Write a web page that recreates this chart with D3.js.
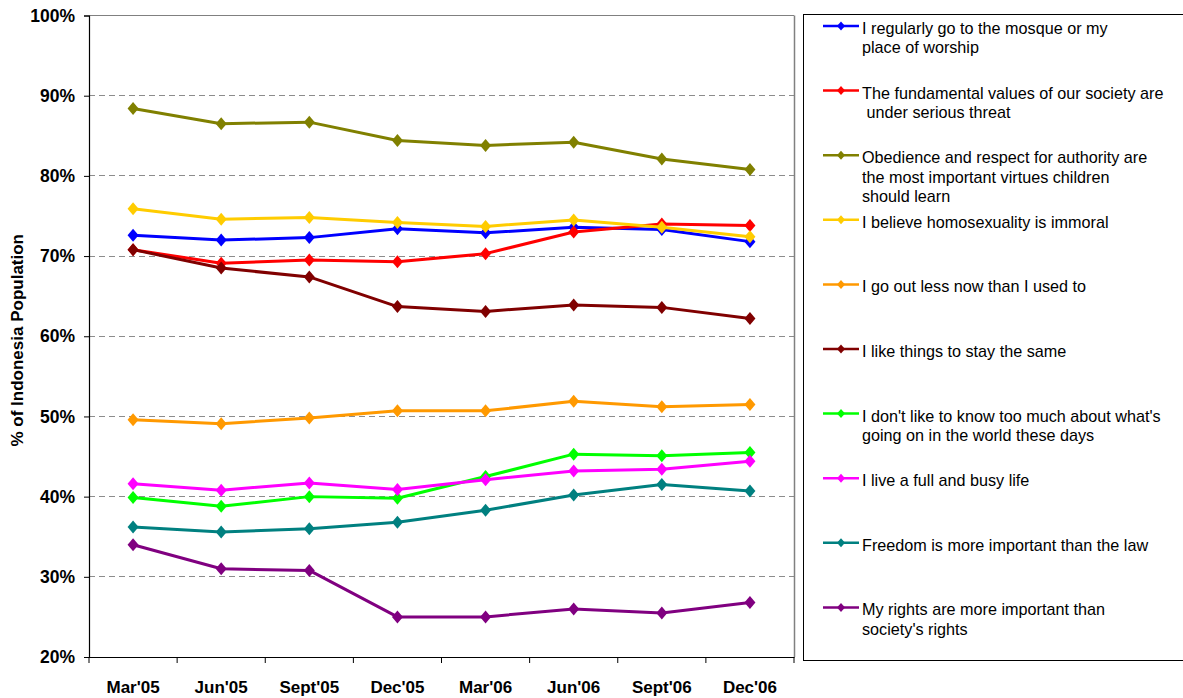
<!DOCTYPE html>
<html>
<head>
<meta charset="utf-8">
<script src="https://cdn.jsdelivr.net/npm/d3@7"></script>
<style>
  html, body { margin: 0; padding: 0; background: #fff; }
  svg { display: block; font-family: "Liberation Sans", Arial, sans-serif; }
</style>
</head>
<body>
<svg id="chart" width="1183" height="698"></svg>
<script>
const categories = ["Mar'05", "Jun'05", "Sept'05", "Dec'05", "Mar'06", "Jun'06", "Sept'06", "Dec'06"];
const yTicks = [0.2, 0.3, 0.4, 0.5, 0.6, 0.7, 0.8, 0.9, 1.0];

const seriesNames = [
  ["I regularly go to the mosque or my", "place of worship"],
  ["The fundamental values of our society are", " under serious threat"],
  ["Obedience and respect for authority are", "the most important virtues children", "should learn"],
  ["I believe homosexuality is immoral"],
  ["I go out less now than I used to"],
  ["I like things to stay the same"],
  ["I don't like to know too much about what's", "going on in the world these days"],
  ["I live a full and busy life"],
  ["Freedom is more important than the law"],
  ["My rights are more important than", "society's rights"]
];
const seriesColors = ["#0000FF", "#FF0000", "#808000", "#FFCC00", "#FF9900", "#800000", "#00FF00", "#FF00FF", "#008080", "#800080"];

const mosque      = [0.726, 0.720, 0.723, 0.734, 0.729, 0.736, 0.733, 0.718];
const threat      = [0.708, 0.691, 0.695, 0.693, 0.703, 0.730, 0.740, 0.738];
const obedience   = [0.884, 0.865, 0.867, 0.844, 0.838, 0.842, 0.821, 0.808];
const homosexual  = [0.759, 0.746, 0.748, 0.742, 0.737, 0.745, 0.736, 0.724];
const goOut       = [0.496, 0.491, 0.498, 0.507, 0.507, 0.519, 0.512, 0.515];
const sameThings  = [0.708, 0.685, 0.674, 0.637, 0.631, 0.639, 0.636, 0.622];
const dontKnow    = [0.399, 0.388, 0.400, 0.398, 0.425, 0.453, 0.451, 0.455];
const busyLife    = [0.416, 0.408, 0.417, 0.409, 0.421, 0.432, 0.434, 0.444];
const freedom     = [0.362, 0.356, 0.360, 0.368, 0.383, 0.402, 0.415, 0.407];
const myRights    = [0.340, 0.310, 0.308, 0.250, 0.250, 0.260, 0.255, 0.268];

const seriesValues = [mosque, threat, obedience, homosexual, goOut, sameThings, dontKnow, busyLife, freedom, myRights];

const svg = d3.select("#chart");
const plot = { left: 89, right: 794, top: 15.5, bottom: 657 };

const x = d3.scaleBand().domain(categories).range([plot.left, plot.right]).padding(0);
const y = d3.scaleLinear().domain([0.2, 1.0]).range([plot.bottom, plot.top]);
const cx = c => x(c) + x.bandwidth() / 2;

// gridlines
svg.append("g").selectAll("line").data(yTicks.filter(t => t > 0.2 && t < 1.0)).join("line")
  .attr("x1", plot.left).attr("x2", plot.right)
  .attr("y1", d => y(d)).attr("y2", d => y(d))
  .attr("stroke", "#8c8c8c").attr("stroke-width", 1)
  .attr("stroke-dasharray", "6,4")
  .attr("shape-rendering", "crispEdges");

// plot border top and right (gray)
svg.append("line").attr("x1", plot.left).attr("x2", plot.right).attr("y1", y(1.0)).attr("y2", y(1.0))
  .attr("stroke", "#808080").attr("stroke-width", 1).attr("shape-rendering", "crispEdges");
svg.append("line").attr("x1", plot.right + 0.5).attr("x2", plot.right + 0.5).attr("y1", y(1.0)).attr("y2", plot.bottom)
  .attr("stroke", "#808080").attr("stroke-width", 1.5);

// Y axis
const yAxis = d3.axisLeft(y).tickValues(yTicks).tickFormat(d3.format(".0%")).tickSize(5).tickPadding(9);
const gy = svg.append("g").attr("transform", `translate(${plot.left},0)`).call(yAxis);
gy.select(".domain").attr("stroke", "#000").attr("stroke-width", 1.2);
gy.selectAll(".tick line").attr("stroke", "#000");
gy.selectAll(".tick text").attr("font-size", 17.5).attr("font-weight", "bold")
  .attr("font-family", "'Liberation Sans', Arial, sans-serif").attr("fill", "#000");

// X axis
const xAxis = d3.axisBottom(x).tickSize(0).tickPadding(24);
const gx = svg.append("g").attr("transform", `translate(0,${plot.bottom})`).call(xAxis);
gx.select(".domain").attr("stroke", "#000").attr("stroke-width", 1.2);
gx.selectAll(".tick text").attr("font-size", 17).attr("font-weight", "bold")
  .attr("font-family", "'Liberation Sans', Arial, sans-serif").attr("fill", "#000");
// category boundary ticks
const bounds = categories.map(c => x(c)).concat([plot.right]);
svg.append("g").selectAll("line").data(bounds).join("line")
  .attr("x1", d => d).attr("x2", d => d)
  .attr("y1", plot.bottom).attr("y2", plot.bottom + 6)
  .attr("stroke", "#000").attr("stroke-width", 1);

// Y title
svg.append("text")
  .attr("transform", `translate(23,${(plot.top + plot.bottom) / 2 + 4}) rotate(-90)`)
  .attr("text-anchor", "middle")
  .attr("font-size", 17).attr("font-weight", "bold")
  .text("% of Indonesia Population");

// Lines & markers
const line = d3.line().x((d, i) => cx(categories[i])).y(d => y(d));
const diamond = (w, h) => `M0,${-h} L${w},0 L0,${h} L${-w},0 Z`;

seriesValues.forEach((vals, si) => {
  const g = svg.append("g");
  g.append("path").datum(vals).attr("d", line)
    .attr("fill", "none").attr("stroke", seriesColors[si]).attr("stroke-width", 3)
    .attr("stroke-linejoin", "round");
  g.selectAll("path.m").data(vals).join("path").attr("class", "m")
    .attr("transform", (d, i) => `translate(${cx(categories[i])},${y(d)})`)
    .attr("d", diamond(5.5, 6.5))
    .attr("fill", seriesColors[si]);
});

// Legend
const legend = svg.append("g");
legend.append("rect").attr("x", 803.5).attr("y", 14.5).attr("width", 420).attr("height", 646)
  .attr("fill", "#fff").attr("stroke", "#000").attr("stroke-width", 1);
const legStep = 64.6;
seriesNames.forEach((lines, si) => {
  const ly = 26 + si * legStep;
  const g = legend.append("g");
  g.append("line").attr("x1", 823).attr("x2", 859).attr("y1", ly).attr("y2", ly)
    .attr("stroke", seriesColors[si]).attr("stroke-width", 2.5);
  g.append("path").attr("transform", `translate(841,${ly})`).attr("d", diamond(4, 4.5))
    .attr("fill", seriesColors[si]);
  const t = g.append("text").attr("x", 862).attr("y", ly + 8).attr("font-size", 16.2).attr("fill", "#000")
    .attr("xml:space", "preserve");
  lines.forEach((s, k) => {
    t.append("tspan").attr("x", 862).attr("dy", k === 0 ? 0 : 19.4).text(s);
  });
});
</script>
</body>
</html>
